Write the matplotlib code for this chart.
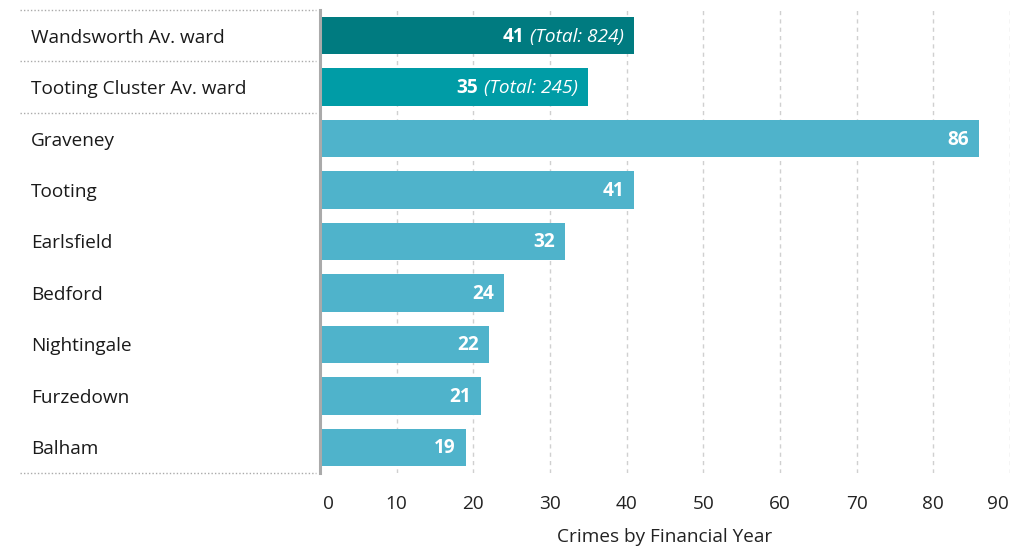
import matplotlib
matplotlib.use("Agg")
import matplotlib.pyplot as plt
from matplotlib.transforms import blended_transform_factory, ScaledTranslation

plt.rcParams['font.family'] = ['Open Sans', 'DejaVu Sans']

categories = ["Wandsworth Av. ward", "Tooting Cluster Av. ward", "Graveney", "Tooting",
              "Earlsfield", "Bedford", "Nightingale", "Furzedown", "Balham"]
values = [41, 35, 86, 41, 32, 24, 22, 21, 19]
totals = [824, 245, None, None, None, None, None, None, None]
bar_colors = ["#007B80", "#009CA6"] + ["#4FB3CB"] * 7
xticks = [0, 10, 20, 30, 40, 50, 60, 70, 80, 90]
xlabel = "Crimes by Financial Year"

W, H = 1030, 550
FS = 13.7
fig = plt.figure(figsize=(W / 100, H / 100), dpi=100)
ax = fig.add_axes([320 / W, 1 - 473 / H, 690 / W, 463 / H])

ypos = list(range(len(categories)))
ax.barh(ypos, values, height=0.73, color=bar_colors, zorder=3, left=0)
ax.set_xlim(0, 90)
ax.set_ylim(len(categories) - 0.5, -0.5)

# grid
ax.set_xticks(xticks)
ax.set_xticklabels([str(t) for t in xticks])
ax.xaxis.grid(True, color="#d0d0d0", linestyle=(0, (3, 3)), linewidth=1, zorder=0)
ax.tick_params(axis='x', length=0, pad=16, labelsize=FS, labelcolor="#222222")
ax.set_yticks([])
for s in ["top", "right", "bottom"]:
    ax.spines[s].set_visible(False)
ax.spines["left"].set_color("#aaaaaa")
ax.spines["left"].set_linewidth(2.2)
ax.spines["left"].set_zorder(5)

labels = ax.get_xticklabels()
labels[0].set_transform(labels[0].get_transform() + ScaledTranslation(8 / 100, 0, fig.dpi_scale_trans))
labels[-1].set_transform(labels[-1].get_transform() + ScaledTranslation(-12 / 100, 0, fig.dpi_scale_trans))

ax.set_xlabel(xlabel, fontsize=FS, color="#222222", labelpad=11)

# category labels
tr = blended_transform_factory(fig.transFigure, ax.transData)
for y, c in zip(ypos, categories):
    ax.annotate(c, (31 / W, y), xycoords=tr, xytext=(0, -2), textcoords='offset pixels',
                ha='left', va='center', fontsize=FS, color="#1a1a1a")

# dotted separators
for yb in [-0.5, 0.5, 1.5, len(categories) - 0.5]:
    ax.plot([20 / W, 316 / W], [yb, yb], transform=tr, color="#aaaaaa",
            linestyle=(0, (1, 1.5)), linewidth=1, clip_on=False)

# value labels
fig.canvas.draw()
renderer = fig.canvas.get_renderer()
for y, v, t in zip(ypos, values, totals):
    off = -10
    if t is not None:
        it = ax.annotate(f"(Total: {t})", (v, y), xytext=(off, -1), textcoords='offset pixels',
                         ha='right', va='center', fontsize=FS, style='italic', color='white', zorder=6)
        w = it.get_window_extent(renderer).width
        off = off - w - 6
    ax.annotate(f"{v}", (v, y), xytext=(off, -1), textcoords='offset pixels',
                ha='right', va='center', fontsize=FS, fontweight='bold', color='white', zorder=6)

fig.savefig("out.png", dpi=100)
